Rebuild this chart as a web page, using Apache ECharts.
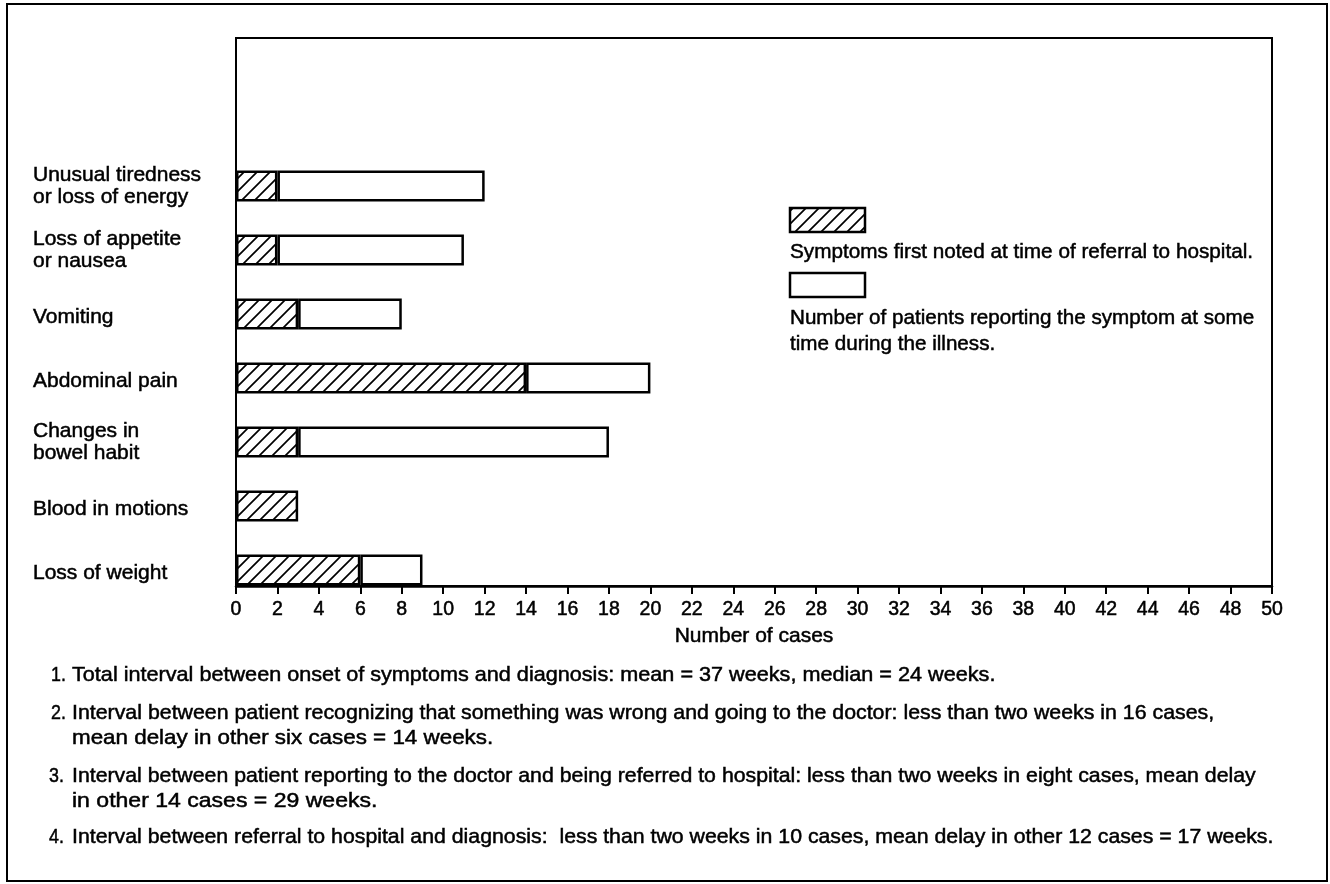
<!DOCTYPE html>
<html><head><meta charset="utf-8">
<script src="https://cdn.jsdelivr.net/npm/echarts@6/dist/echarts.min.js"></script>
<style>html,body{margin:0;padding:0;background:#fff}#c{width:1330px;height:884px}</style>
</head><body><div id="c"></div>
<script>
// ---- data ----
const categories = ['Unusual tiredness\nor loss of energy', 'Loss of appetite\nor nausea', 'Vomiting', 'Abdominal pain', 'Changes in\nbowel habit', 'Blood in motions', 'Loss of weight'];
const firstNotedAtReferral = [2, 2, 3, 14, 3, 3, 6];
const reportedAtSomeTime = [12, 11, 8, 20, 18, 3, 9];
const xMin = 0, xMax = 50, xInterval = 2;
const axisName = 'Number of cases';
const legendLabels = ['Symptoms first noted at time of referral to hospital.', 'Number of patients reporting the symptom at some\ntime during the illness.'];
const footnoteNumbers = ['1.', '2.', '3.', '4.'];
const footnoteLines = [
  ['Total interval between onset of symptoms and diagnosis: mean = 37 weeks, median = 24 weeks.'],
  ['Interval between patient recognizing that something was wrong and going to the doctor: less than two weeks in 16 cases,', 'mean delay in other six cases = 14 weeks.'],
  ['Interval between patient reporting to the doctor and being referred to hospital: less than two weeks in eight cases, mean delay', 'in other 14 cases = 29 weeks.'],
  ['Interval between referral to hospital and diagnosis:  less than two weeks in 10 cases, mean delay in other 12 cases = 17 weeks.']
];

// ---- styling / layout ----
const FONT = '"Liberation Sans", Arial, Helvetica, sans-serif';
const TXT = 21;
const HEAVY = { textBorderColor: '#000', textBorderWidth: 0.5 };
const fnLineY = [[675], [713, 738], [776, 801], [837]];
const fnLineScale = [[1.03], [1.016, 1.066], [1.014, 1.097], [1.0135]];
const fnNumX = [51, 51, 49, 49];

function makeHatch() {
  const s = 13;
  const c = document.createElement('canvas');
  c.width = s; c.height = s;
  const g = c.getContext('2d');
  g.fillStyle = '#fff'; g.fillRect(0, 0, s, s);
  g.strokeStyle = '#000'; g.lineWidth = 1.7;
  g.beginPath();
  g.moveTo(0, s); g.lineTo(s, 0);
  g.moveTo(-3, 3); g.lineTo(3, -3);
  g.moveTo(s - 3, s + 3); g.lineTo(s + 3, s - 3);
  g.stroke();
  return { image: c, repeat: 'repeat' };
}
const hatch = makeHatch();

const remainder = reportedAtSomeTime.map((t, i) => (t - firstNotedAtReferral[i]) > 0 ? (t - firstNotedAtReferral[i]) : '-');

const chart = echarts.init(document.getElementById('c'), null, { renderer: 'canvas' });

function txt(x, y, text, extra) {
  return Object.assign({ type: 'text', x: x, y: y, z: 10,
    style: { text: text, fontSize: TXT, fontFamily: FONT, fill: '#000', verticalAlign: 'middle', align: 'left', lineHeight: 26, stroke: '#000', lineWidth: 0.5 } }, extra || {});
}

const graphics = [
  { type: 'rect', shape: { x: 7, y: 4, width: 1320, height: 877 }, style: { fill: 'none', stroke: '#000', lineWidth: 2 }, z: 0 },
  { type: 'rect', shape: { x: 790, y: 208, width: 75, height: 24 }, style: { fill: hatch, stroke: '#000', lineWidth: 2.5 }, z: 10 },
  txt(790, 252, legendLabels[0], { scaleX: 0.987 }),
  { type: 'rect', shape: { x: 790, y: 273, width: 75, height: 24 }, style: { fill: '#fff', stroke: '#000', lineWidth: 2.5 }, z: 10 },
  txt(790, 331, legendLabels[1], { scaleX: 0.982 })
];
footnoteLines.forEach((lines, i) => {
  graphics.push(txt(fnNumX[i], fnLineY[i][0], footnoteNumbers[i], { scaleX: 0.85 }));
  lines.forEach((line, j) => {
    graphics.push(txt(72, fnLineY[i][j], line, { scaleX: fnLineScale[i][j] }));
  });
});

chart.setOption({
  animation: false,
  backgroundColor: '#fff',
  grid: [
    { left: 236, right: 58, top: 154, bottom: 282, containLabel: false, outerBoundsMode: 'none' },
    { left: 236, right: 58, top: 38, bottom: 298, containLabel: false, outerBoundsMode: 'none', show: true, borderColor: '#000', borderWidth: 2, backgroundColor: 'transparent' }
  ],
  xAxis: [
    { gridIndex: 0, type: 'value', min: xMin, max: xMax, show: false },
    {
      gridIndex: 1, type: 'value', min: xMin, max: xMax, interval: xInterval,
      axisLine: { show: true, onZero: false, lineStyle: { color: '#000', width: 2.5 } },
      axisTick: { show: true, inside: false, length: 8, lineStyle: { color: '#000', width: 2 } },
      axisLabel: Object.assign({ show: true, color: '#000', fontSize: 19.5, fontFamily: FONT, margin: 14, showMinLabel: true, showMaxLabel: true, hideOverlap: false }, HEAVY),
      splitLine: { show: false },
      name: axisName, nameLocation: 'middle', nameGap: 39,
      nameTextStyle: Object.assign({ color: '#000', fontSize: TXT, fontFamily: FONT }, HEAVY)
    }
  ],
  yAxis: [
    {
      gridIndex: 0, type: 'category', data: categories, inverse: true,
      axisLine: { show: false }, axisTick: { show: false }, splitLine: { show: false },
      axisLabel: Object.assign({
        align: 'left', margin: 203, color: '#000', fontSize: TXT, fontFamily: FONT, lineHeight: 22, interval: 0,
        formatter: function (v) { return v.indexOf('\n') >= 0 ? v : '{s|' + v + '}'; },
        rich: { s: Object.assign({ fontSize: TXT, fontFamily: FONT, color: '#000', padding: [6, 0, 0, 0] }, HEAVY) }
      }, HEAVY)
    },
    { gridIndex: 1, type: 'value', show: false, min: 0, max: 1 }
  ],
  series: [
    {
      name: 'first noted', type: 'bar', xAxisIndex: 0, yAxisIndex: 0, stack: 'total', barWidth: 31,
      data: firstNotedAtReferral,
      itemStyle: { color: hatch, borderColor: '#000', borderWidth: 2.5 },
      emphasis: { disabled: true }, z: 5
    },
    {
      name: 'reported', type: 'bar', xAxisIndex: 0, yAxisIndex: 0, stack: 'total', barWidth: 31,
      data: remainder,
      itemStyle: { color: '#fff', borderColor: '#000', borderWidth: 2.5 },
      emphasis: { disabled: true }, z: 4
    }
  ],
  graphic: graphics
});
</script></body></html>
